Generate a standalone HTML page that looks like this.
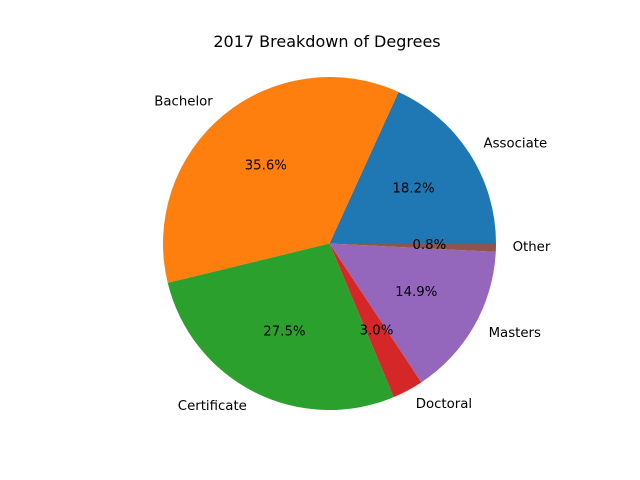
<!DOCTYPE html>
<html><head><meta charset="utf-8"><style>
body{margin:0;background:#fff}
svg{display:block;font-family:"DejaVu Sans","Liberation Sans",sans-serif}
</style></head><body>
<svg id="chart" width="640" height="480">
<rect width="640" height="480" fill="#fff"/>
<text x="327" y="49" text-anchor="middle" font-size="16" transform="translate(0,-2)">2017 Breakdown of Degrees</text>
<g id="slices"></g><g id="labels"></g>
</svg>
<script>
const categories=["Associate","Bachelor","Certificate","Doctoral","Masters","Other"];
const values=[18.2,35.6,27.5,3.0,14.9,0.8];
const colors=["#1f77b4","#ff7f0e","#2ca02c","#d62728","#9467bd","#8c564b"];
const cx=329.5,cy=243.5,r=166.5;
const ns="http://www.w3.org/2000/svg";
const total=values.reduce((a,b)=>a+b,0);
const gs=document.getElementById("slices"),gl=document.getElementById("labels");
let a0=0;
function pt(a,k){return [cx+k*r*Math.cos(a),cy-k*r*Math.sin(a)];}
values.forEach((v,i)=>{
  const a1=a0+v/total*2*Math.PI;
  const p0=pt(a0,1),p1=pt(a1,1);
  const large=(a1-a0)>Math.PI?1:0;
  const p=document.createElementNS(ns,"path");
  p.setAttribute("d",`M${cx},${cy}L${p0[0]},${p0[1]}A${r},${r} 0 ${large} 0 ${p1[0]},${p1[1]}Z`);
  p.setAttribute("fill",colors[i]);
  
  
  gs.appendChild(p);
  const am=(a0+a1)/2;
  const lp=pt(am,1.1);
  const t=document.createElementNS(ns,"text");
  t.setAttribute("x",lp[0]);t.setAttribute("y",lp[1]+3);
  t.setAttribute("font-size","13.3");
  t.setAttribute("text-anchor",Math.cos(am)>0?"start":"end");
  t.textContent=categories[i];
  
  
  gl.appendChild(t);
  const pp=pt(am,0.6);
  const t2=document.createElementNS(ns,"text");
  t2.setAttribute("x",pp[0]);t2.setAttribute("y",pp[1]+3);
  t2.setAttribute("font-size","13.3");
  t2.setAttribute("text-anchor","middle");
  t2.textContent=(v/total*100).toFixed(1)+"%";
  
  
  gl.appendChild(t2);
  a0=a1;
});
</script>
</body></html>
